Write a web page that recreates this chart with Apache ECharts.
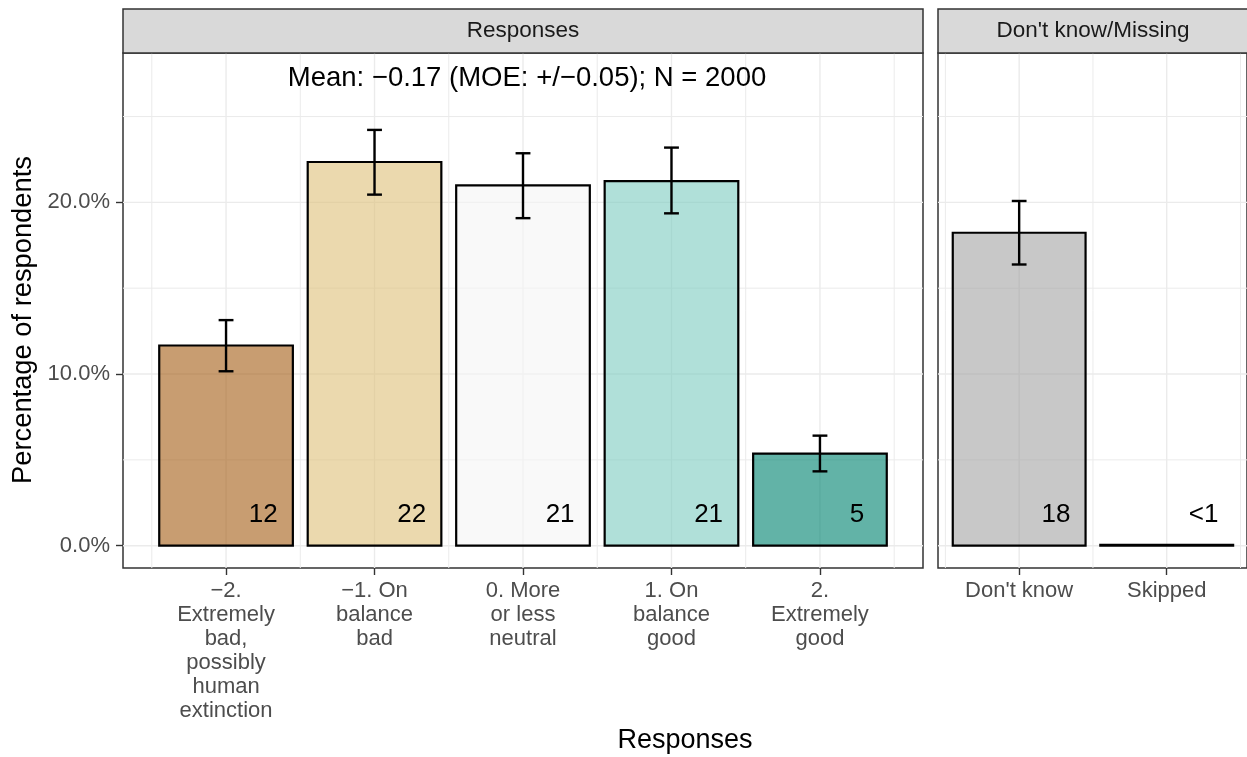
<!DOCTYPE html>
<html>
<head>
<meta charset="utf-8">
<script src="https://cdn.jsdelivr.net/npm/echarts@6/dist/echarts.min.js"></script>
<style>
  html, body { margin: 0; padding: 0; background: #ffffff; }
  #chart { width: 1247px; height: 757px; }
</style>
</head>
<body>
<div id="chart"></div>
<script>
// ---- data -------------------------------------------------------------
const responseCategories = [
  '\u22122.\nExtremely\nbad,\npossibly\nhuman\nextinction',
  '\u22121. On\nbalance\nbad',
  '0. More\nor less\nneutral',
  '1. On\nbalance\ngood',
  '2.\nExtremely\ngood'
];
const responsePct  = [11.66, 22.35, 20.99, 21.24, 5.36];
const responseLow  = [10.16, 20.45, 19.08, 19.36, 4.33];
const responseHigh = [13.14, 24.22, 22.86, 23.19, 6.41];

const missingCategories = ["Don't know", 'Skipped'];
const missingPct  = [18.23, 0.05];
const missingLow  = [16.38, null];
const missingHigh = [20.08, null];

const yTickValues = [0, 10, 20];
const hGridValues = [0, 5, 10, 15, 20, 25];
const vGridResponses = [-0.5, 0, 0.5, 1, 1.5, 2, 2.5, 3, 3.5, 4, 4.5];
const vGridMissing = [-0.5, 0, 0.5, 1, 1.5];

const panelTitles = ['Responses', "Don't know/Missing"];
const summaryText = 'Mean: \u22120.17 (MOE: +/\u22120.05); N = 2000';
const xTitle = 'Responses';
const yTitle = 'Percentage of respondents';

// ---- styling ----------------------------------------------------------
const FONT = '"Liberation Sans", Arial, Helvetica, sans-serif';
const responseFills = [
  'rgba(166,97,26,0.62)',
  'rgba(223,194,125,0.62)',
  'rgba(245,245,245,0.62)',
  'rgba(128,205,193,0.62)',
  'rgba(1,133,113,0.62)'
];
const missingFills = ['rgba(160,160,160,0.58)', 'rgba(160,160,160,0.58)'];
const BAR_HALF = 0.45;
const CAP_HALF = 0.05;
const LABEL_SHIFT = 0.25;

const PANELS = [
  { left: 123, width: 800, xmin: -0.694, xmax: 4.694 },
  { left: 938, width: 310, xmin: -0.55, xmax: 1.544 }
];
const TOP = 53, HEIGHT = 515, YMIN = -1.3, YMAX = 28.7;

// ---- helpers ----------------------------------------------------------
function gridLineData(vs) {
  const rows = [];
  hGridValues.forEach(v => rows.push([0, v, v % 10 === 0 ? 1 : 0]));
  vs.forEach(v => rows.push([1, v, Number.isInteger(v) ? 1 : 0]));
  return rows;
}
function renderGridLine(params, api) {
  const kind = api.value(0), pos = api.value(1), major = api.value(2);
  const cs = params.coordSys;
  let shape;
  if (kind === 0) {
    const y = api.coord([0, pos])[1];
    shape = { x1: cs.x, y1: y, x2: cs.x + cs.width, y2: y };
  } else {
    const x = api.coord([pos, 0])[0];
    shape = { x1: x, y1: cs.y, x2: x, y2: cs.y + cs.height };
  }
  return { type: 'line', shape, silent: true,
           style: { stroke: '#EBEBEB', lineWidth: major ? 1.4 : 1 } };
}
function barRenderer(fills) {
  return function (params, api) {
    const i = api.value(0), v = api.value(1);
    const tl = api.coord([i - BAR_HALF, v]);
    const br = api.coord([i + BAR_HALF, 0]);
    return { type: 'rect',
      shape: { x: tl[0], y: tl[1], width: br[0] - tl[0], height: br[1] - tl[1] },
      style: { fill: fills[params.dataIndex], stroke: '#000000', lineWidth: 2.2 } };
  };
}
function renderErrorBar(params, api) {
  const i = api.value(0), lo = api.value(1), hi = api.value(2);
  const top = api.coord([i, hi]), bot = api.coord([i, lo]);
  const half = api.size([CAP_HALF, 0])[0];
  const st = { stroke: '#000000', lineWidth: 2.4 };
  return { type: 'group', children: [
    { type: 'line', shape: { x1: top[0], y1: top[1], x2: bot[0], y2: bot[1] }, style: st },
    { type: 'line', shape: { x1: top[0] - half, y1: top[1], x2: top[0] + half, y2: top[1] }, style: st },
    { type: 'line', shape: { x1: bot[0] - half, y1: bot[1], x2: bot[0] + half, y2: bot[1] }, style: st }
  ] };
}
function pctLabel(v) { return v < 1 ? '<1' : String(Math.round(v)); }
function renderValueLabel(params, api) {
  const i = api.value(0), v = api.value(1);
  const p = api.coord([i + LABEL_SHIFT, 0]);
  return { type: 'text', x: p[0], y: p[1] - 31, silent: true,
    style: { text: pctLabel(v), fill: '#000000', fontSize: 26, fontFamily: FONT,
             align: 'center', verticalAlign: 'middle' } };
}

function buildSeries(idx, pct, low, high, fills, vGrid) {
  const base = { type: 'custom', xAxisIndex: idx, yAxisIndex: idx, clip: false, silent: true };
  const bars = pct.map((v, i) => [i, v]);
  const errs = [];
  pct.forEach((v, i) => { if (low[i] != null) errs.push([i, low[i], high[i]]); });
  return [
    Object.assign({}, base, { z: 1, data: gridLineData(vGrid), renderItem: renderGridLine }),
    Object.assign({}, base, { z: 2, data: bars, renderItem: barRenderer(fills) }),
    Object.assign({}, base, { z: 3, data: errs, renderItem: renderErrorBar }),
    Object.assign({}, base, { z: 4, data: bars, renderItem: renderValueLabel })
  ];
}

function xAxisFor(idx, cats) {
  const vals = cats.map((c, i) => i);
  return {
    gridIndex: idx, type: 'value', position: 'bottom',
    min: PANELS[idx].xmin, max: PANELS[idx].xmax,
    axisLine: { show: false, onZero: false }, splitLine: { show: false },
    axisTick: { show: true, customValues: vals, length: 7, lineStyle: { color: '#333333', width: 1.4 } },
    axisLabel: { show: true, customValues: vals, margin: 11, color: '#4D4D4D',
                 fontSize: 22, lineHeight: 24, fontFamily: FONT, align: 'center',
                 formatter: v => cats[Math.round(v)] }
  };
}
function yAxisFor(idx) {
  return {
    gridIndex: idx, type: 'value', position: 'left', min: YMIN, max: YMAX,
    axisLine: { show: false, onZero: false }, splitLine: { show: false },
    axisTick: { show: idx === 0, customValues: yTickValues, length: 7,
                lineStyle: { color: '#333333', width: 1.4 } },
    axisLabel: { show: idx === 0, customValues: yTickValues, margin: 13, color: '#4D4D4D',
                 fontSize: 22, fontFamily: FONT, formatter: v => v.toFixed(1) + '%' }
  };
}

// ---- chart ------------------------------------------------------------
const chart = echarts.init(document.getElementById('chart'), null, { renderer: 'canvas' });

const strips = PANELS.map((p, i) => ([
  { type: 'rect', z: 10, silent: true,
    shape: { x: p.left, y: 9, width: p.width, height: TOP - 9 },
    style: { fill: '#D9D9D9', stroke: '#333333', lineWidth: 1.5 } },
  { type: 'text', z: 11, silent: true, x: p.left + p.width / 2, y: 31,
    style: { text: panelTitles[i], fill: '#1A1A1A', fontSize: 22.5, fontFamily: FONT,
             align: 'center', verticalAlign: 'middle' } }
])).flat();

chart.setOption({
  animation: false,
  backgroundColor: '#ffffff',
  grid: PANELS.map(p => ({
    left: p.left, top: TOP, width: p.width, height: HEIGHT,
    show: true, backgroundColor: '#ffffff', borderColor: '#333333', borderWidth: 1.5,
    containLabel: false
  })),
  xAxis: [xAxisFor(0, responseCategories), xAxisFor(1, missingCategories)],
  yAxis: [yAxisFor(0), yAxisFor(1)],
  series: [
    ...buildSeries(0, responsePct, responseLow, responseHigh, responseFills, vGridResponses),
    ...buildSeries(1, missingPct, missingLow, missingHigh, missingFills, vGridMissing)
  ],
  graphic: [
    ...strips,
    { type: 'text', z: 20, silent: true, x: 527, y: 78,
      style: { text: summaryText, fill: '#000000', fontSize: 27.5, fontFamily: FONT,
               align: 'center', verticalAlign: 'middle' } },
    { type: 'text', z: 20, silent: true, x: 685, y: 741,
      style: { text: xTitle, fill: '#000000', fontSize: 27, fontFamily: FONT,
               align: 'center', verticalAlign: 'middle' } },
    { type: 'text', z: 20, silent: true, x: 23, y: 320, rotation: Math.PI / 2,
      style: { text: yTitle, fill: '#000000', fontSize: 27.3, fontFamily: FONT,
               align: 'center', verticalAlign: 'middle' } }
  ]
});
</script>
</body>
</html>
